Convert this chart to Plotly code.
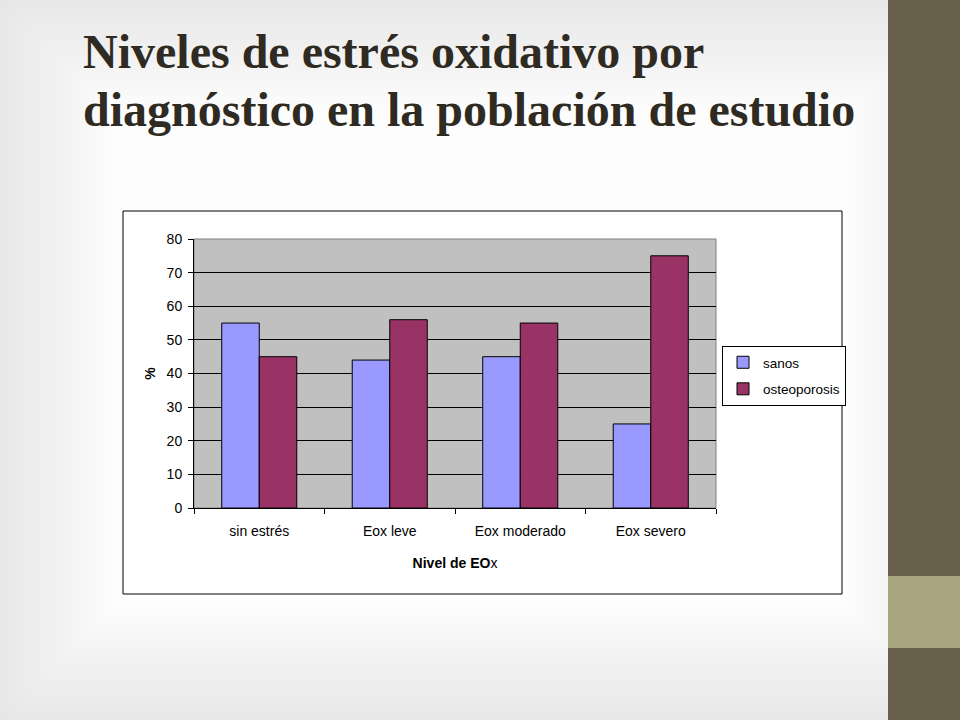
import plotly.graph_objects as go

categories = ["sin estrés", "Eox leve", "Eox moderado", "Eox severo"]
sanos = [55, 44, 45, 25]
osteoporosis = [45, 56, 55, 75]
y_ticks = [0, 10, 20, 30, 40, 50, 60, 70, 80]

W, H = 960, 720
L, R, T, B = 194, 716, 239, 508  # plot area in pixels


def px(x):
    return (x - L) / (R - L)


def py(y):
    return (B - y) / (B - T)


fig = go.Figure()
fig.add_bar(x=categories, y=sanos, name="sanos", legendgroup="a",
            marker=dict(color="#9999ff", line=dict(color="black", width=1)))
fig.add_bar(x=categories, y=osteoporosis, name="osteoporosis", legendgroup="b",
            marker=dict(color="#993366", line=dict(color="black", width=1)))

shapes = []
# soft vignette along the page edges (many faint frames)
for w in range(220, 0, -10):
    shapes.append(dict(type="rect", xref="paper", yref="paper", layer="below",
                       x0=px(0), x1=px(W), y0=py(H), y1=py(0),
                       fillcolor="rgba(0,0,0,0)",
                       line=dict(color="rgba(60,60,90,0.0035)", width=w)))
shapes += [
    # chart box
    dict(type="rect", xref="paper", yref="paper", layer="below",
         x0=px(123), x1=px(842), y0=py(594), y1=py(211),
         fillcolor="white", line=dict(color="black", width=1)),
    # plot area
    dict(type="rect", xref="paper", yref="paper", layer="below",
         x0=0, x1=1, y0=0, y1=1,
         fillcolor="#c0c0c0", line=dict(color="#808080", width=1)),
    # sidebar
    dict(type="rect", xref="paper", yref="paper", layer="below",
         x0=px(888), x1=px(962), y0=py(722), y1=py(-2),
         fillcolor="#675f4a", line=dict(width=0)),
    dict(type="rect", xref="paper", yref="paper", layer="below",
         x0=px(888), x1=px(962), y0=py(648), y1=py(576),
         fillcolor="#a9a67f", line=dict(width=0)),
]

title_font = dict(family="Liberation Serif", size=48, color="#2f2b23")
annotations = [
    dict(text="<b>Niveles de estrés oxidativo por</b>", xref="paper", yref="paper",
         x=px(81), y=py(51), xanchor="left", yanchor="middle", showarrow=False,
         font=title_font),
    dict(text="<b>diagnóstico en la población de estudio</b>", xref="paper", yref="paper",
         x=px(81), y=py(109), xanchor="left", yanchor="middle", showarrow=False,
         font=title_font),
]

fig.update_layout(
    width=W, height=H,
    margin=dict(l=L, r=W - R, t=T, b=H - B),
    paper_bgcolor="#fdfdfd",
    plot_bgcolor="rgba(0,0,0,0)",
    barmode="group",
    bargap=0.425,
    bargroupgap=0,
    font=dict(family="Liberation Sans", size=14, color="black"),
    shapes=shapes,
    annotations=annotations,
    showlegend=True,
    legend=dict(x=px(722), y=py(346), xanchor="left", yanchor="top",
                bgcolor="white", bordercolor="black", borderwidth=1,
                font=dict(size=13.5), itemwidth=30, tracegroupgap=6,
                traceorder="grouped"),
)

fig.update_yaxes(range=[0, 80], tickvals=y_ticks, showgrid=True, gridcolor="black",
                 gridwidth=1, ticks="outside", ticklen=5, tickcolor="black",
                 showline=True, linecolor="black", linewidth=1, zeroline=False,
                 ticklabelstandoff=3,
                 title=dict(text="<b>%</b>", standoff=7, font=dict(size=14)))
fig.update_xaxes(tickson="boundaries", ticks="outside", ticklen=5, tickcolor="black",
                 showline=True, linecolor="black", linewidth=1, showgrid=False,
                 ticklabelstandoff=10,
                 title=dict(text="<b>Nivel de EO</b>x", standoff=20, font=dict(size=14)))

fig.write_html("out.html", config={"displayModeBar": False},
               post_script="document.body.style.margin='0';")
